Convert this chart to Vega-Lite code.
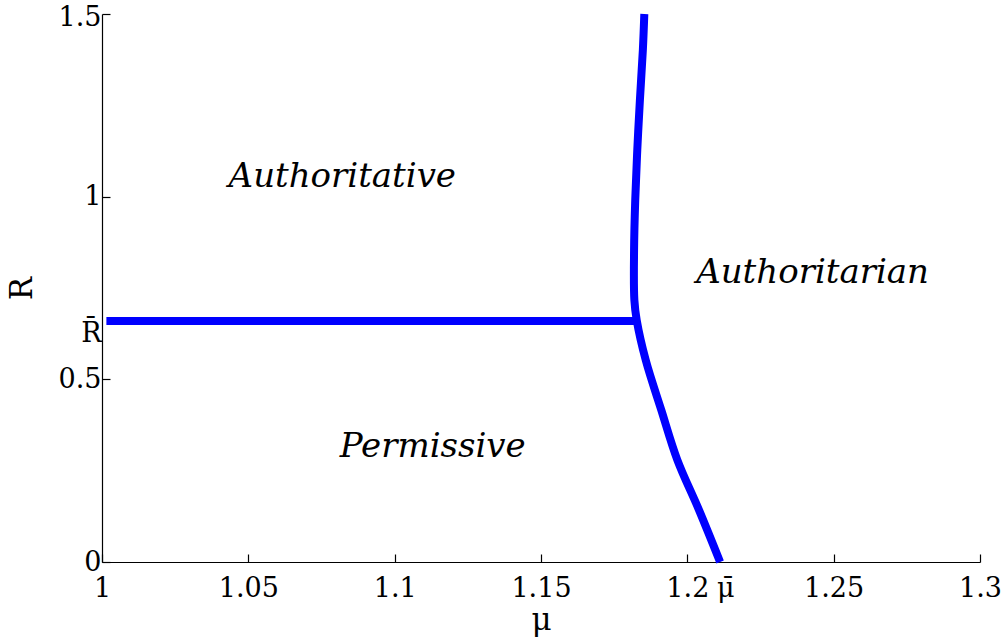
{
  "$schema": "https://vega.github.io/schema/vega-lite/v6.json",
  "width": 878,
  "height": 548,
  "autosize": {"type": "none"},
  "padding": {"left": 102, "top": 14, "right": 26, "bottom": 82},
  "background": "white",
  "config": {
    "view": {"stroke": null},
    "font": "DejaVu Serif",
    "axis": {
      "grid": false,
      "domainColor": "black",
      "domainWidth": 1.2,
      "tickColor": "black",
      "tickWidth": 1.2,
      "tickSize": -8,
      "labelColor": "black",
      "labelFont": "DejaVu Serif",
      "labelFontSize": 27,
      "labelOverlap": false,
      "labelFlush": false,
      "labelBound": false,
      "titleFont": "DejaVu Serif",
      "titleFontSize": 31,
      "titleFontWeight": "normal",
      "titleColor": "black"
    }
  },
  "datasets": {
    "boundary": [
      {"seg": "h", "ord": 1, "mu": 1.0015, "R": 0.66},
      {"seg": "h", "ord": 2, "mu": 1.1827, "R": 0.66},
      {"seg": "c", "ord": 1, "mu": 1.1853, "R": 1.5},
      {"seg": "c", "ord": 2, "mu": 1.1848, "R": 1.401},
      {"seg": "c", "ord": 3, "mu": 1.1838, "R": 1.265},
      {"seg": "c", "ord": 4, "mu": 1.1829, "R": 1.128},
      {"seg": "c", "ord": 5, "mu": 1.1822, "R": 0.991},
      {"seg": "c", "ord": 6, "mu": 1.1818, "R": 0.854},
      {"seg": "c", "ord": 7, "mu": 1.1819, "R": 0.717},
      {"seg": "c", "ord": 8, "mu": 1.1827, "R": 0.662},
      {"seg": "c", "ord": 9, "mu": 1.1858, "R": 0.552},
      {"seg": "c", "ord": 10, "mu": 1.1911, "R": 0.416},
      {"seg": "c", "ord": 11, "mu": 1.1966, "R": 0.279},
      {"seg": "c", "ord": 12, "mu": 1.204, "R": 0.142},
      {"seg": "c", "ord": 13, "mu": 1.2112, "R": 0}
    ],
    "regions": [
      {"label": "Authoritative", "mu": 1.0821, "R": 1.026},
      {"label": "Permissive", "mu": 1.113, "R": 0.2876},
      {"label": "Authoritarian", "mu": 1.2428, "R": 0.763}
    ]
  },
  "layer": [
    {
      "data": {"name": "boundary"},
      "mark": {"type": "line", "color": "#0000FF", "strokeWidth": 8, "strokeCap": "butt", "strokeJoin": "round", "interpolate": "catmull-rom", "clip": false},
      "encoding": {
        "x": {
          "field": "mu", "type": "quantitative",
          "scale": {"domain": [1, 1.3], "nice": false, "zero": false},
          "axis": {
            "title": "μ",
            "titlePadding": 4,
            "values": [1, 1.05, 1.1, 1.15, 1.2, 1.213, 1.25, 1.3],
            "labelExpr": "datum.value == 1.213 ? 'μ\u0304' : format(datum.value, '~g')",
            "labelPadding": 21,
            "tickOpacity": {"condition": {"test": "datum.value == 1.213", "value": 0}, "value": 1}
          }
        },
        "y": {
          "field": "R", "type": "quantitative",
          "scale": {"domain": [0, 1.5], "nice": false},
          "axis": {
            "title": "R",
            "titlePadding": 20,
            "values": [0, 0.5, 0.66, 1, 1.5],
            "labelExpr": "datum.value == 0.66 ? 'R\u0304' : format(datum.value, '~g')",
            "labelPadding": 9,
            "labelOffset": {"condition": [{"test": "datum.value == 0.66", "value": 13}, {"test": "datum.value == 1.5", "value": 3}], "value": 0},
            "tickOpacity": {"condition": {"test": "datum.value == 0.66", "value": 0}, "value": 1}
          }
        },
        "detail": {"field": "seg"},
        "order": {"field": "ord"}
      }
    },
    {
      "data": {"name": "regions"},
      "mark": {"type": "text", "font": "DejaVu Serif", "fontStyle": "italic", "fontSize": 34, "align": "center", "baseline": "alphabetic", "color": "black"},
      "encoding": {
        "x": {"field": "mu", "type": "quantitative"},
        "y": {"field": "R", "type": "quantitative"},
        "text": {"field": "label"}
      }
    }
  ]
}
